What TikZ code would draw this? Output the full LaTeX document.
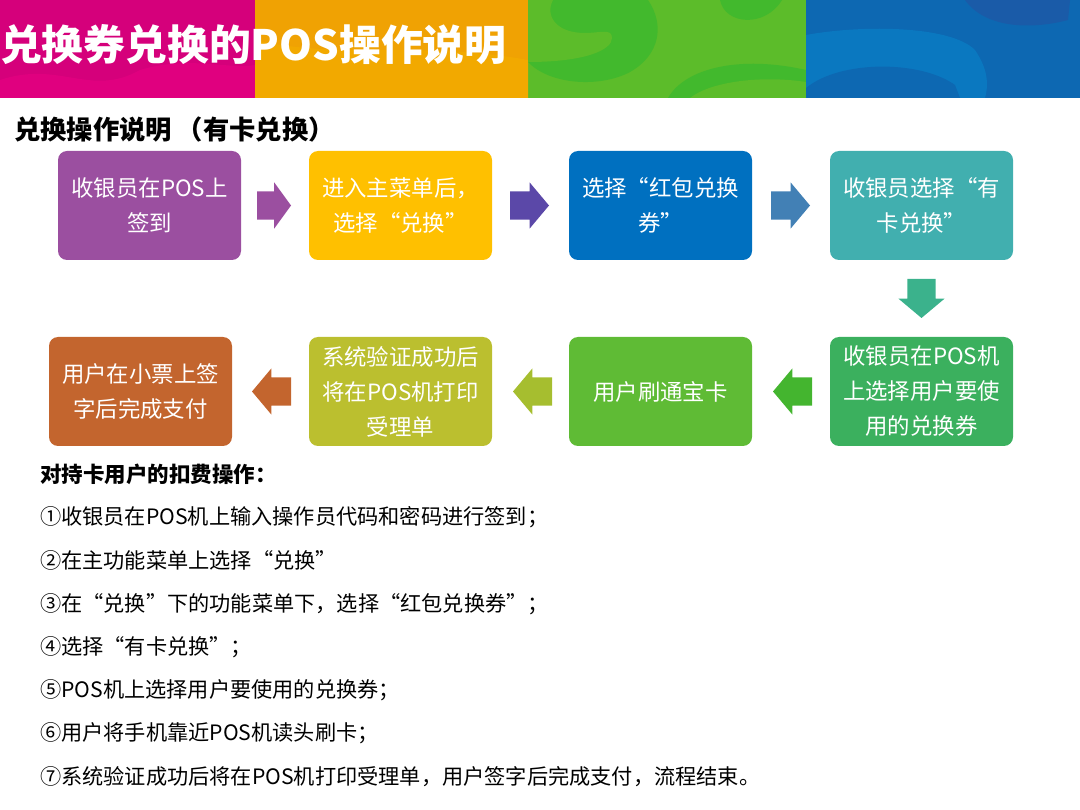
\documentclass[tikz,border=0pt]{standalone}
\usepackage{fontspec}
\setmainfont{Noto Sans CJK SC}
\usetikzlibrary{shapes.arrows}
\definecolor{bandPink}{HTML}{D5007B}
\definecolor{bandPinkLight}{HTML}{E0007F}
\definecolor{bandOrange}{HTML}{F0A203}
\definecolor{bandOrangeLight}{HTML}{F2A900}
\definecolor{bandGreen}{HTML}{5CBC2A}
\definecolor{swirlGreen}{HTML}{42B92D}
\definecolor{bandBlue}{HTML}{0D68B2}
\definecolor{bandBlueLight}{HTML}{0A78C0}
\definecolor{bandBlueDark}{HTML}{1A5BA8}
\tikzset{
  stepbox/.style={rounded corners=9pt, minimum width=183pt, minimum height=109pt, inner sep=0pt,
    text=white, align=center, font=\fontsize{22.4pt}{35pt}\selectfont},
  flowarrow/.style={single arrow, single arrow head extend=9pt, single arrow tip angle=100,
    text height=28pt, text depth=0pt, text width=0pt, anchor=tip,
    minimum height=39pt, inner sep=0pt, outer sep=0pt},
  listline/.style={anchor=west, inner sep=0pt, font=\fontsize{21.2pt}{24pt}\selectfont}
}
\begin{document}
\begin{tikzpicture}[x=1pt, y=-1pt]
    \useasboundingbox (0, 0) rectangle (1080, 810);

    % banner
    \fill[bandPink] (0, 0) rectangle (255, 98);
    \fill[bandOrange] (255, 0) rectangle (528, 98);
    \fill[bandGreen] (528, 0) rectangle (806, 98);
    \fill[bandBlue] (806, 0) rectangle (1080, 98);

    \fill[bandPinkLight] (0, 80) .. controls (60, 60) and (90, 98) .. (140, 70) .. controls (190, 55) and (230, 70) .. (255, 65) -- (255, 98) -- (0, 98) -- cycle;
    \fill[bandOrangeLight] (255, 40) .. controls (340, 60) and (420, 40) .. (528, 60) -- (528, 98) -- (255, 98) -- cycle;

    \begin{scope}
      \clip (528, 0) rectangle (806, 98);
      \fill[swirlGreen] (552, 0) -- (648, 0) .. controls (665, 25) and (660, 55) .. (630, 72) .. controls (600, 88) and (550, 85) .. (528, 62) -- (528, 0) -- cycle;
      \fill[bandGreen] (553, 0) .. controls (545, 15) and (555, 33) .. (585, 33) .. controls (600, 33) and (612, 28) .. (612, 38) .. controls (612, 50) and (585, 62) .. (528, 62) -- (528, 0) -- cycle;
      \fill[swirlGreen] (668, 98) .. controls (685, 68) and (740, 55) .. (806, 70) -- (806, 98) -- cycle;
      \fill[bandGreen] (690, 98) .. controls (710, 82) and (760, 75) .. (806, 82) -- (806, 98) -- cycle;
      \fill[swirlGreen] (720, 0) .. controls (725, 25) and (765, 28) .. (782, 0) -- cycle;
    \end{scope}

    \begin{scope}
      \clip (806, 0) rectangle (1080, 98);
      \fill[bandBlueLight] (806, 35) .. controls (860, 25) and (950, 25) .. (975, 50) .. controls (985, 65) and (990, 80) .. (985, 98) -- (806, 98) -- cycle;
      \fill[bandBlue] (806, 88) .. controls (840, 60) and (920, 60) .. (955, 85) -- (960, 98) -- (806, 98) -- cycle;
      \fill[bandBlueDark] (965, 0) -- (1070, 0) -- (1068, 20) .. controls (1030, 30) and (985, 28) .. (965, 0) -- cycle;
    \end{scope}

    \node[anchor=west, inner sep=0pt, text=white, font=\fontsize{41.8pt}{48pt}\selectfont\bfseries] (title) at (0, 45) {兑换券兑换的POS操作说明};
    \node[anchor=west, inner sep=0pt, font=\fontsize{26.3pt}{32pt}\selectfont\bfseries] (subtitle) at (14, 130) {兑换操作说明\hspace{5pt}（有卡兑换）};

    % first row
    \node[stepbox, fill={rgb,255:red,155;green,79;blue,160}] (signin) at (149.5, 205.5) {收银员在POS上\\签到};
    \node[stepbox, fill={rgb,255:red,255;green,192;blue,0}] (menu) at (400.5, 205.5) {进入主菜单后，\\选择“兑换”};
    \node[stepbox, fill={rgb,255:red,0;green,112;blue,192}] (voucher) at (660.5, 205.5) {选择“红包兑换\\券”};
    \node[stepbox, fill={rgb,255:red,65;green,175;blue,175}] (withcard) at (921.5, 205.5) {收银员选择“有\\卡兑换”};

    \node[flowarrow, minimum height=34pt, single arrow tip angle=108, fill={rgb,255:red,155;green,79;blue,160}] (arrowa) at (291, 205.5) {};
    \node[flowarrow, fill={rgb,255:red,91;green,72;blue,168}] (arrowb) at (549, 205.5) {};
    \node[flowarrow, fill={rgb,255:red,66;green,128;blue,181}] (arrowc) at (810, 205.5) {};
    \node[flowarrow, rotate=-90, fill={rgb,255:red,59;green,178;blue,140}] (arrowd) at (921.5, 318) {};

    % second row
    \node[stepbox, fill={rgb,255:red,59;green,176;blue,94}] (choose) at (921.5, 391.5) {收银员在POS机\\上选择用户要使\\用的兑换券};
    \node[stepbox, fill={rgb,255:red,95;green,187;blue,53}] (swipe) at (660.5, 391.5) {用户刷通宝卡};
    \node[stepbox, fill={rgb,255:red,187;green,191;blue,47}] (receipt) at (400.5, 391.5) {系统验证成功后\\将在POS机打印\\受理单};
    \node[stepbox, fill={rgb,255:red,195;green,101;blue,46}] (pay) at (140.5, 391.5) {用户在小票上签\\字后完成支付};

    \node[flowarrow, rotate=180, fill={rgb,255:red,68;green,181;blue,47}] (arrowe) at (773, 391.5) {};
    \node[flowarrow, rotate=180, fill={rgb,255:red,166;green,190;blue,47}] (arrowf) at (513, 391.5) {};
    \node[flowarrow, rotate=180, fill={rgb,255:red,195;green,101;blue,46}] (arrowg) at (252, 391.5) {};

    % steps
    \node[listline, font=\fontsize{21.5pt}{24pt}\selectfont\bfseries] (heading) at (40, 474) {对持卡用户的扣费操作：};
    \node[listline] (stepone) at (40, 517) {①收银员在POS机上输入操作员代码和密码进行签到；};
    \node[listline] (steptwo) at (40, 560.5) {②在主功能菜单上选择“兑换”};
    \node[listline] (stepthree) at (40, 604) {③在“兑换”下的功能菜单下，选择“红包兑换券”；};
    \node[listline] (stepfour) at (40, 647) {④选择“有卡兑换”；};
    \node[listline] (stepfive) at (40, 690) {⑤POS机上选择用户要使用的兑换券；};
    \node[listline] (stepsix) at (40, 733) {⑥用户将手机靠近POS机读头刷卡；};
    \node[listline] (stepseven) at (40, 777) {⑦系统验证成功后将在POS机打印受理单，用户签字后完成支付，流程结束。};
\end{tikzpicture}
\end{document}
